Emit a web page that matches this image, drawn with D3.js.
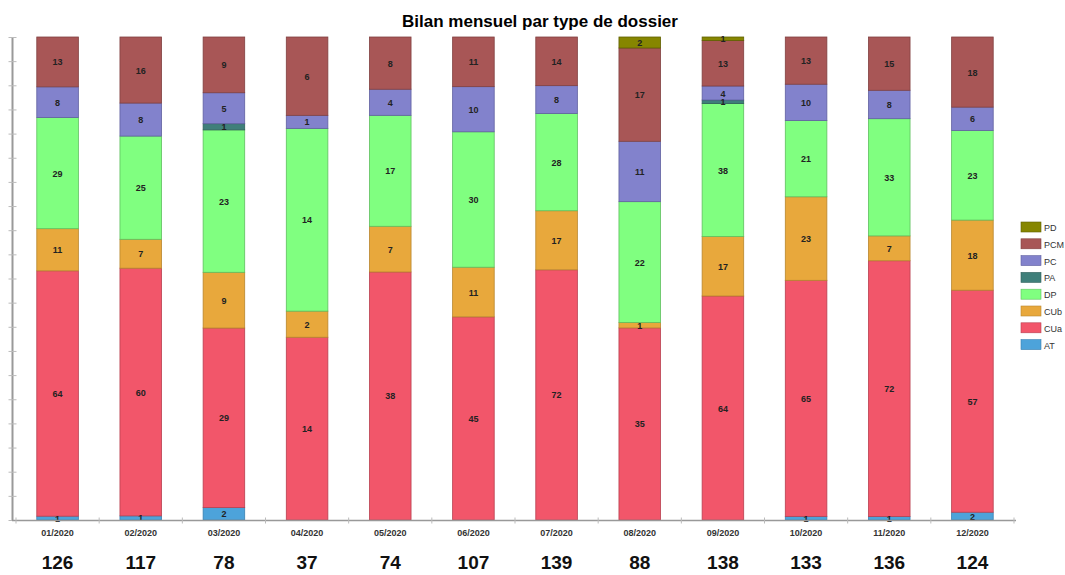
<!DOCTYPE html>
<html><head><meta charset="utf-8">
<script src="https://cdn.jsdelivr.net/npm/d3@7"></script>
<style>body{margin:0;background:#fff}svg{display:block}</style>
</head><body>
<svg id="chart" width="1065" height="575"></svg>
<script>
const months = ["01/2020","02/2020","03/2020","04/2020","05/2020","06/2020","07/2020","08/2020","09/2020","10/2020","11/2020","12/2020"];
const seriesNames = ["AT","CUa","CUb","DP","PA","PC","PCM","PD"];
const AT  = [1,1,2,0,0,0,0,0,0,1,1,2];
const CUa = [64,60,29,14,38,45,72,35,64,65,72,57];
const CUb = [11,7,9,2,7,11,17,1,17,23,7,18];
const DP  = [29,25,23,14,17,30,28,22,38,21,33,23];
const PA  = [0,0,1,0,0,0,0,0,1,0,0,0];
const PC  = [8,8,5,1,4,10,8,11,4,10,8,6];
const PCM = [13,16,9,6,8,11,14,17,13,13,15,18];
const PD  = [0,0,0,0,0,0,0,2,1,0,0,0];
const totals = [126,117,78,37,74,107,139,88,138,133,136,124];

(function(){
const colors = {AT:"#4da3da",CUa:"#f2566a",CUb:"#e8a83c",DP:"#80ff80",PA:"#3f7f7a",PC:"#8282cc",PCM:"#a85656",PD:"#868600"};
const strokes = {AT:"#3a80b0",CUa:"#b84050",CUb:"#b8862e",DP:"#5fbf5f",PA:"#2f5f5a",PC:"#6060a0",PCM:"#804040",PD:"#606000"};
const seriesData = {AT,CUa,CUb,DP,PA,PC,PCM,PD};

const rows = months.map((m,i)=>{const r={month:m};seriesNames.forEach(s=>r[s]=seriesData[s][i]);return r;});
const stack = d3.stack().keys(seriesNames).offset(d3.stackOffsetExpand)(rows);

const svg = d3.select("#chart");
const pLeft=16, pRight=1014, pTop=37, pBottom=520;
const x = d3.scaleBand().domain(months).range([pLeft,pRight]).paddingInner(0.5).paddingOuter(0.25);
const y = d3.scaleLinear().domain([0,1]).range([pBottom,pTop]);

svg.append("text").attr("x",540).attr("y",27).attr("text-anchor","middle")
  .style("font-family","Liberation Sans, Arial, sans-serif").style("font-weight","bold").style("font-size","17px")
  .text("Bilan mensuel par type de dossier");

// y axis
const yAxis = d3.axisLeft(y).tickValues(d3.range(0,1.0001,0.05)).tickSize(4).tickFormat("");
const yg = svg.append("g").attr("transform",`translate(12.5,0)`).call(yAxis);
yg.select(".domain").attr("stroke","#999").attr("stroke-width",2).attr("d",`M0,${pTop}V${pBottom}`);
yg.selectAll(".tick line").attr("stroke","#bbb").attr("x1",-4).attr("x2",4);

// bars
const g = svg.append("g");
stack.forEach(layer=>{
  const key = layer.key;
  layer.forEach((d,i)=>{
    const v = seriesData[key][i];
    if(!v) return;
    g.append("rect").attr("x",x(months[i])).attr("width",x.bandwidth())
      .attr("y",y(d[1])).attr("height",y(d[0])-y(d[1]))
      .attr("fill",colors[key]).attr("stroke",strokes[key]).attr("stroke-width",0.8);
  });
});
stack.forEach(layer=>{
  const key = layer.key;
  layer.forEach((d,i)=>{
    const v = seriesData[key][i];
    if(!v) return;
    g.append("text").attr("x",x(months[i])+x.bandwidth()/2).attr("y",(y(d[0])+y(d[1]))/2+3.5)
      .attr("text-anchor","middle").style("font-family","Liberation Sans, Arial, sans-serif")
      .style("font-weight","bold").style("font-size","9px").attr("fill","#222").text(v);
  });
});

// x axis
const xStep = x.step();
const xAxis = svg.append("g").attr("transform",`translate(0,${pBottom+0.5})`);
xAxis.append("line").attr("x1",12).attr("x2",pRight+2).attr("stroke","#999").attr("stroke-width",1.5);
d3.range(months.length+1).forEach(i=>{
  const xx = pLeft + i*xStep;
  xAxis.append("line").attr("x1",xx).attr("x2",xx).attr("y1",-3).attr("y2",3).attr("stroke","#bbb");
});
months.forEach(m=>{
  xAxis.append("text").attr("x",x(m)+x.bandwidth()/2).attr("y",15).attr("text-anchor","middle")
    .style("font-family","Liberation Sans, Arial, sans-serif").style("font-weight","bold").style("font-size","9px")
    .attr("fill","#333").text(m);
});

// totals
months.forEach((m,i)=>{
  svg.append("text").attr("x",x(m)+x.bandwidth()/2).attr("y",569).attr("text-anchor","middle")
    .style("font-family","Liberation Sans, Arial, sans-serif").style("font-weight","bold").style("font-size","19px")
    .attr("fill","#111").text(totals[i]);
});

// legend
const legendOrder = seriesNames.slice().reverse();
const lg = svg.append("g").attr("transform","translate(1021,222)");
legendOrder.forEach((s,i)=>{
  const yy = i*16.8;
  lg.append("rect").attr("x",0).attr("y",yy).attr("width",20).attr("height",10)
    .attr("fill",colors[s]).attr("stroke",strokes[s]).attr("stroke-width",0.6);
  lg.append("text").attr("x",23).attr("y",yy+9).style("font-family","Liberation Sans, Arial, sans-serif")
    .style("font-size","9px").attr("fill","#333").text(s);
});
})();
</script>
</body></html>
